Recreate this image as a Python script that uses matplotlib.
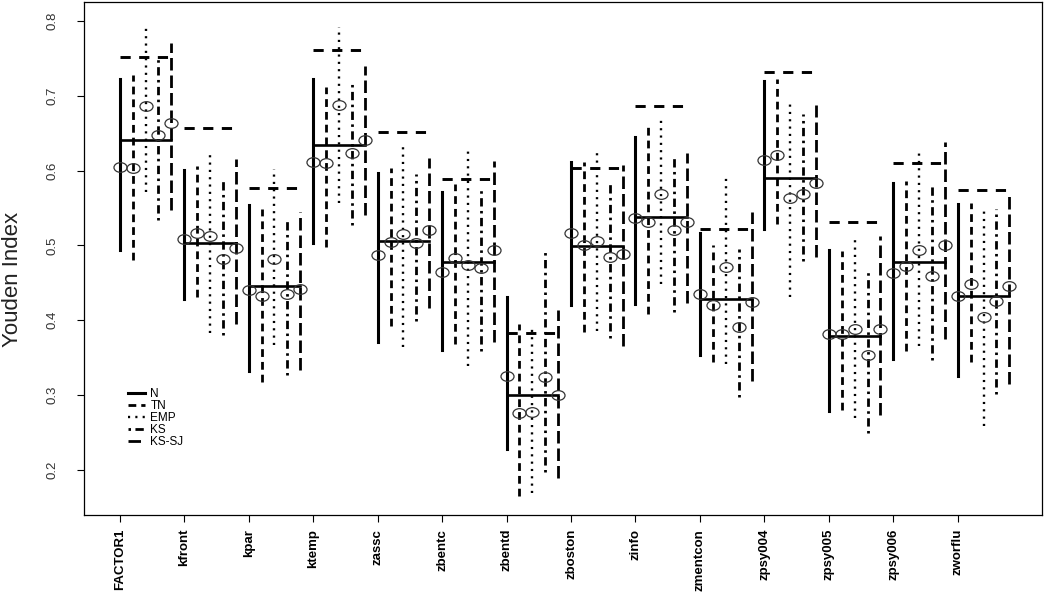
import numpy as np
from matplotlib import pyplot as plt
from matplotlib.lines import Line2D
from matplotlib.path import Path
from matplotlib.transforms import Affine2D

plt.rcParams['font.family'] = ['Liberation Sans', 'DejaVu Sans']

groups = ['FACTOR1', 'kfront', 'kpar', 'ktemp', 'zassc', 'zbentc', 'zbentd',
          'zboston', 'zinfo', 'zmentcon', 'zpsy004', 'zpsy005', 'zpsy006', 'zworflu']
methods = ['N', 'TN', 'EMP', 'KS', 'KS-SJ']

# lower / upper limits and point estimates, one list per method
lo_N = [0.494, 0.428, 0.332, 0.503, 0.371, 0.360, 0.228, 0.421, 0.422, 0.353, 0.522, 0.279, 0.348, 0.326]
hi_N = [0.722, 0.601, 0.554, 0.722, 0.597, 0.571, 0.431, 0.612, 0.645, 0.517, 0.719, 0.494, 0.584, 0.555]
est_N = [0.605, 0.509, 0.440, 0.611, 0.487, 0.465, 0.325, 0.517, 0.536, 0.435, 0.614, 0.382, 0.463, 0.433]

lo_TN = [0.481, 0.431, 0.318, 0.498, 0.393, 0.368, 0.166, 0.385, 0.409, 0.344, 0.529, 0.280, 0.359, 0.344]
hi_TN = [0.727, 0.606, 0.548, 0.712, 0.604, 0.582, 0.395, 0.611, 0.658, 0.500, 0.722, 0.492, 0.586, 0.557]
est_TN = [0.603, 0.516, 0.432, 0.610, 0.505, 0.483, 0.276, 0.500, 0.531, 0.421, 0.621, 0.382, 0.473, 0.449]

lo_EMP = [0.571, 0.383, 0.367, 0.557, 0.364, 0.339, 0.170, 0.386, 0.448, 0.342, 0.431, 0.270, 0.366, 0.259]
hi_EMP = [0.796, 0.626, 0.602, 0.792, 0.633, 0.629, 0.393, 0.629, 0.673, 0.594, 0.693, 0.513, 0.627, 0.547]
est_EMP = [0.686, 0.512, 0.482, 0.687, 0.515, 0.474, 0.278, 0.506, 0.569, 0.471, 0.563, 0.389, 0.494, 0.405]

lo_KS = [0.534, 0.381, 0.327, 0.527, 0.399, 0.359, 0.197, 0.376, 0.411, 0.297, 0.479, 0.250, 0.347, 0.302]
hi_KS = [0.753, 0.587, 0.533, 0.721, 0.595, 0.577, 0.491, 0.582, 0.617, 0.495, 0.675, 0.466, 0.580, 0.549]
est_KS = [0.648, 0.482, 0.435, 0.623, 0.503, 0.470, 0.324, 0.485, 0.520, 0.391, 0.569, 0.353, 0.459, 0.426]

lo_KSSJ = [0.547, 0.395, 0.333, 0.540, 0.417, 0.371, 0.190, 0.366, 0.423, 0.319, 0.484, 0.273, 0.375, 0.315]
hi_KSSJ = [0.771, 0.615, 0.544, 0.740, 0.617, 0.613, 0.414, 0.608, 0.624, 0.544, 0.687, 0.512, 0.638, 0.571]
est_KSSJ = [0.664, 0.497, 0.442, 0.641, 0.521, 0.494, 0.300, 0.489, 0.531, 0.425, 0.583, 0.388, 0.501, 0.446]

# reference value drawn as the dashed line above each group
ref = [0.751, 0.657, 0.577, 0.761, 0.652, 0.589, 0.383, 0.604, 0.686, 0.522, 0.731, 0.531, 0.610, 0.574]

lows = [lo_N, lo_TN, lo_EMP, lo_KS, lo_KSSJ]
highs = [hi_N, hi_TN, hi_EMP, hi_KS, hi_KSSJ]
ests = [est_N, est_TN, est_EMP, est_KS, est_KSSJ]

styles = [dict(ls='-', lw=2.2),
          dict(ls=(0, (2.8, 1.8)), lw=2.0),
          dict(ls=(0, (0.9, 2.2)), lw=1.7),
          dict(ls=(0, (0.9, 1.6, 3.0, 1.6)), lw=2.0),
          dict(ls=(0, (4.5, 1.8)), lw=2.0)]

ell = Path.unit_circle().transformed(Affine2D().scale(1.35, 1.0))

fig = plt.figure(figsize=(10.5, 5.95), dpi=100)
ax = fig.add_axes([0.080, 0.1345, 0.912, 0.862])

xg = np.arange(1, len(groups) + 1)
step = 0.2
for j in range(len(methods)):
    xs = xg + j * step
    for k in range(len(groups)):
        ax.plot([xs[k], xs[k]], [lows[j][k], highs[j][k]], color='black', **styles[j])
    ax.plot(xs, ests[j], ls='none', marker=ell, ms=9.4, mfc='none', mec='#333333', mew=0.9, zorder=5)

mean_est = np.mean(np.array(ests), axis=0)
for k in range(len(groups)):
    ax.plot([xg[k], xg[k] + 4 * step], [mean_est[k], mean_est[k]], color='black', lw=1.9)
    ax.plot([xg[k], xg[k] + 4 * step], [ref[k], ref[k]], color='black', lw=2.1, ls=(0, (3.5, 2.9)))

ax.set_xlim(0.445, 15.3)
ax.set_ylim(0.140, 0.825)
ax.set_xticks(xg)
ax.set_xticklabels(groups, rotation=90, fontweight='bold', fontsize=9.5, va='top')
ax.set_yticks([0.2, 0.3, 0.4, 0.5, 0.6, 0.7, 0.8])
ax.set_yticklabels(['0.2', '0.3', '0.4', '0.5', '0.6', '0.7', '0.8'], rotation=90, va='center',
                   fontsize=9.5, color='#333333')
ax.tick_params(axis='x', length=5, width=0.8, pad=5)
ax.tick_params(axis='y', length=5, width=0.8, pad=13)
for s in ax.spines.values():
    s.set_linewidth(0.9)

fig.text(0.012, 0.53, 'Youden Index', rotation=90, ha='center', va='center', fontsize=16, color='#222222')

handles = [Line2D([], [], color='black', **styles[j]) for j in range(len(methods))]
ax.legend(handles, methods, loc='upper left', bbox_to_anchor=(0.046, 0.248), frameon=False,
          fontsize=8.5, labelspacing=0.0, handlelength=1.4, handletextpad=0.5,
          borderpad=0, borderaxespad=0)

fig.savefig('out.png', dpi=100)
